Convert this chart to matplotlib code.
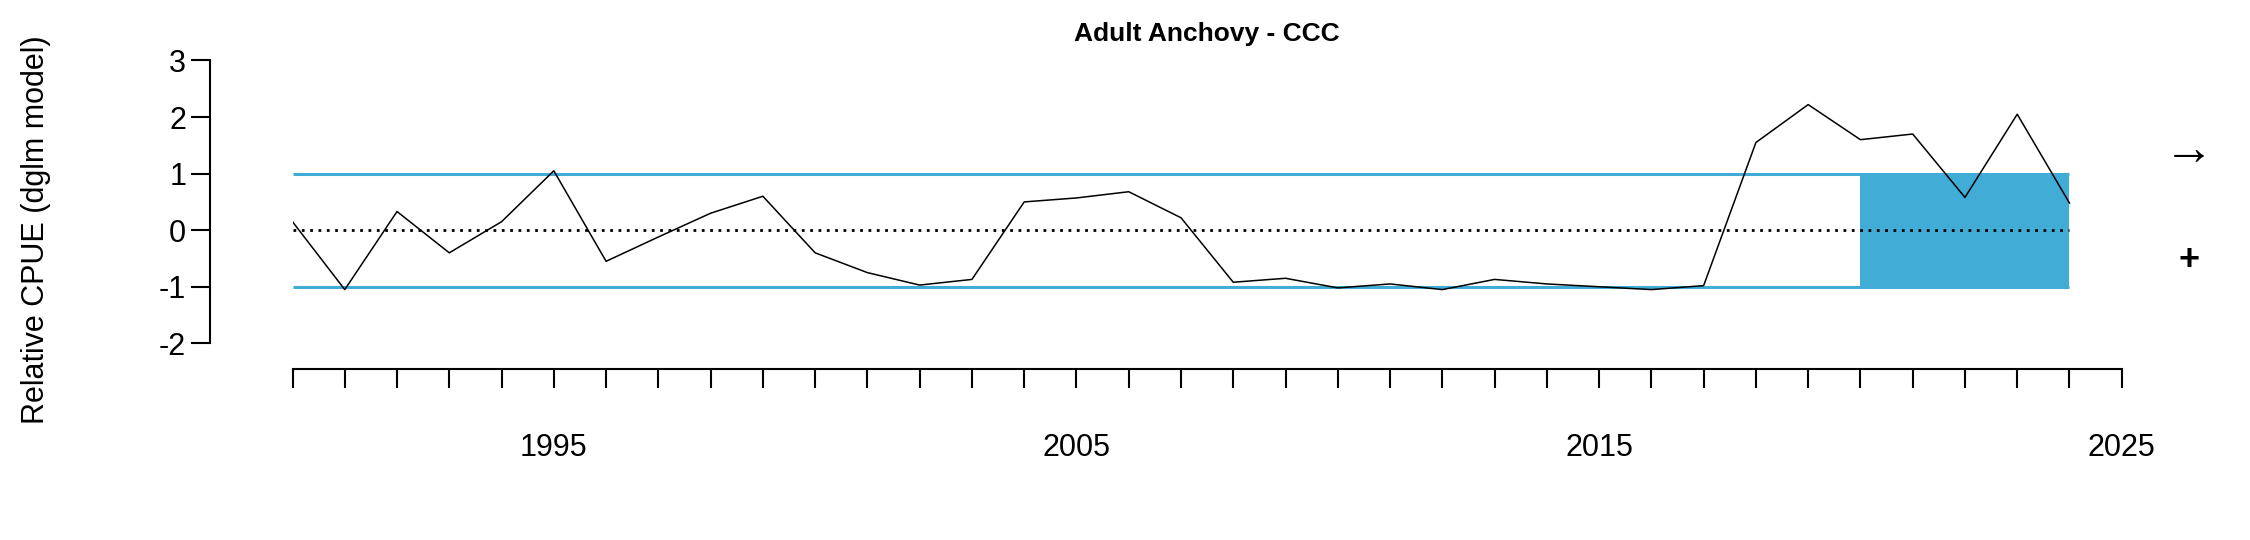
import matplotlib
matplotlib.use("Agg")
import matplotlib.pyplot as plt

years = list(range(1990, 2025))
cpue = [0.15, -1.05, 0.33, -0.4, 0.15, 1.05, -0.55, -0.12, 0.3, 0.6,
        -0.4, -0.75, -0.97, -0.87, 0.5, 0.57, 0.68, 0.22, -0.92, -0.85,
        -1.02, -0.95, -1.05, -0.87, -0.95, -1.0, -1.05, -0.98, 1.55, 2.22,
        1.6, 1.7, 0.58, 2.05, 0.48]
recent_start, recent_end = 2020, 2024
band = (-1, 1)
xtick_labels = [1995, 2005, 2015, 2025]
blue = '#41acd6'

plt.rcParams['font.family'] = 'Liberation Sans'
plt.rcParams['axes.unicode_minus'] = False
fig = plt.figure(figsize=(22.5, 5.4), dpi=100)
ax = fig.add_axes([0.130, 0.316, 0.813, 0.572])

ax.fill_between([recent_start, recent_end], band[0], band[1], color=blue, lw=0)
ax.hlines(band, years[0], years[-1], color=blue, lw=2.2)
ax.hlines(0, years[0], years[-1], color='black', lw=2, linestyles=(0, (1, 2)))
ax.plot(years, cpue, color='black', lw=1.1)

ax.set_xlim(1990, 2025)
ax.set_ylim(-2.46, 3)
for s in ['top', 'right']:
    ax.spines[s].set_visible(False)
ax.spines['left'].set_position(('data', 1988.43))
ax.spines['left'].set_bounds(-2, 3)
ax.spines['bottom'].set_bounds(1990, 2025)
ax.spines['left'].set_linewidth(1.5)
ax.spines['bottom'].set_linewidth(1.5)
ax.set_yticks([-2, -1, 0, 1, 2, 3])
ax.set_xticks(range(1990, 2026))
ax.set_xticklabels([str(y) if y in xtick_labels else '' for y in range(1990, 2026)])
ax.tick_params(axis='both', labelsize=22, length=14, width=1.5, direction='out')
ax.tick_params(axis='x', pad=32)
ax.set_title('Adult Anchovy - CCC', fontsize=19, fontweight='bold', pad=14)

fig.text(0.016, 0.215, 'Relative CPUE (dglm model)', fontsize=22, rotation=90,
         ha='center', va='bottom')
fig.text(0.973, 0.72, '\u2192', fontsize=36, ha='center', va='center')
fig.text(0.973, 0.518, '+', fontsize=26, fontweight='bold', ha='center', va='center')

fig.savefig('out.png')
